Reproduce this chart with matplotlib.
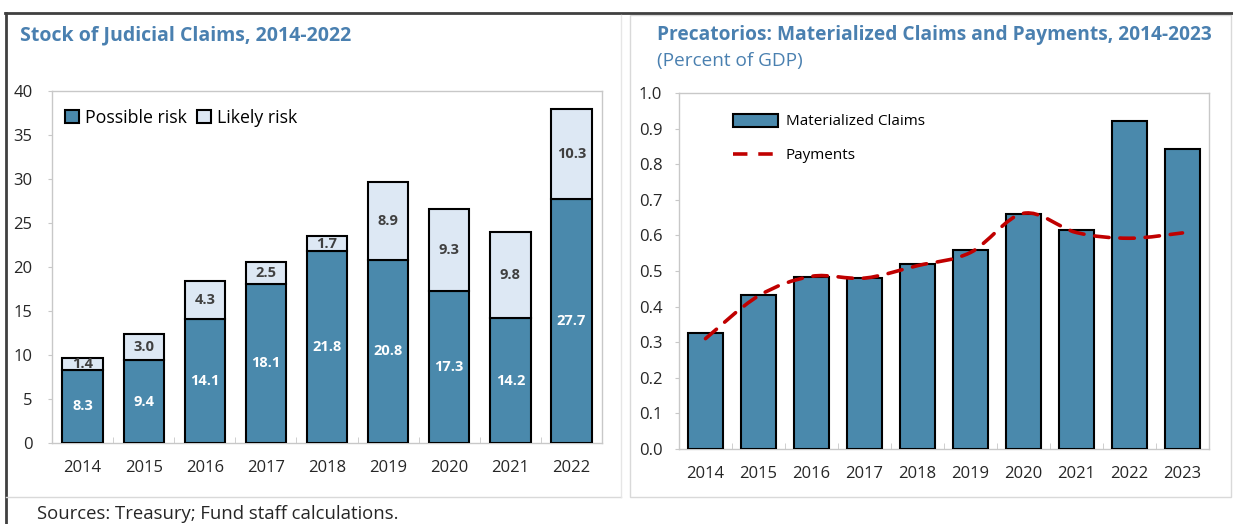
import numpy as np
import matplotlib
matplotlib.use('Agg')
import matplotlib.pyplot as plt
from matplotlib.path import Path
from matplotlib.patches import PathPatch, Rectangle
from matplotlib.lines import Line2D

plt.rcParams['font.family'] = ['Open Sans', 'DejaVu Sans']

# 左图：司法索赔存量
years_left = ['2014', '2015', '2016', '2017', '2018', '2019', '2020', '2021', '2022']
possible_risk = [8.3, 9.4, 14.1, 18.1, 21.8, 20.8, 17.3, 14.2, 27.7]
likely_risk = [1.4, 3.0, 4.3, 2.5, 1.7, 8.9, 9.3, 9.8, 10.3]

# 右图：Precatorios
years_right = ['2014', '2015', '2016', '2017', '2018', '2019', '2020', '2021', '2022', '2023']
materialized = [0.325, 0.433, 0.483, 0.480, 0.519, 0.558, 0.660, 0.615, 0.920, 0.843]
payments = [0.31, 0.43, 0.485, 0.48, 0.515, 0.552, 0.662, 0.608, 0.592, 0.607]

BLUE = '#4a89ac'
LIGHT = '#dde8f4'
TITLE = '#4a80b0'
GRID = '#c8c8c8'
TXT = '#262626'

W, H = 1233, 524
fig = plt.figure(figsize=(W / 100, H / 100), dpi=100)


def px_axes(x0, y0, x1, y1):
    # 像素坐标 -> figure 坐标
    return fig.add_axes([x0 / W, 1 - y1 / H, (x1 - x0) / W, (y1 - y0) / H])


def style_axes(ax, n, labels, ypad):
    for s in ax.spines.values():
        s.set_color(GRID)
        s.set_linewidth(1)
    ax.set_xlim(-0.5, n - 0.5)
    ax.set_xticks(range(n))
    ax.set_xticklabels(labels)
    ax.set_xticks(np.arange(0.5, n - 0.5, 1), minor=True)
    ax.tick_params(axis='x', which='major', length=0, pad=12, labelsize=12, labelcolor=TXT)
    ax.tick_params(axis='x', which='minor', length=4, direction='in', color=GRID)
    ax.tick_params(axis='y', length=3, color=GRID, pad=ypad, labelsize=12, labelcolor=TXT)


# 外框装饰线
fig.add_artist(Line2D([5 / W, 1], [1 - 13 / H, 1 - 13 / H], color='#404040', lw=2))
fig.add_artist(Line2D([6 / W, 6 / W], [0, 1 - 13 / H], color='#404040', lw=2))
fig.add_artist(Line2D([6 / W, 621 / W], [1 - 497 / H, 1 - 497 / H], color='#d9d9d9', lw=1))
fig.add_artist(Line2D([621 / W, 621 / W], [1 - 497 / H, 1 - 15 / H], color='#e6e6e6', lw=1))
fig.add_artist(Rectangle((630 / W, 1 - 497 / H), (1231 - 630) / W, (497 - 15) / H,
                         transform=fig.transFigure, fill=False, ec='#d9d9d9', lw=1))

# ---------------- 左图 ----------------
ax1 = px_axes(52, 91, 602, 443)
x = np.arange(len(years_left))
ax1.bar(x, possible_risk, width=0.66, color=BLUE, edgecolor='black', linewidth=1.5,
        label='Possible risk', zorder=3)
ax1.bar(x, likely_risk, width=0.66, bottom=possible_risk, color=LIGHT, edgecolor='black',
        linewidth=1.5, label='Likely risk', zorder=3)
for i in range(len(x)):
    ax1.text(x[i], possible_risk[i] / 2, f'{possible_risk[i]:.1f}', ha='center', va='center',
             color='white', fontsize=10.5, fontweight='bold', zorder=4)
    ax1.text(x[i], possible_risk[i] + likely_risk[i] / 2, f'{likely_risk[i]:.1f}', ha='center',
             va='center', color='#404040', fontsize=10.5, fontweight='bold', zorder=4)
ax1.set_ylim(0, 40)
ax1.set_yticks(range(0, 41, 5))
style_axes(ax1, len(years_left), years_left, 11)
ax1.legend(loc='upper left', bbox_to_anchor=(-0.005, 0.995), ncol=2, frameon=False, fontsize=12.8,
           handlelength=0.75, handleheight=0.75, handletextpad=0.35, columnspacing=0.6,
           borderaxespad=0.5)
fig.text(20 / W, 1 - 35 / H, 'Stock of Judicial Claims, 2014-2022', color=TITLE, fontsize=14,
         fontweight='bold', va='center', ha='left')

# ---------------- 右图 ----------------
ax2 = px_axes(679, 93, 1209, 449)
x2 = np.arange(len(years_right))
bars = ax2.bar(x2, materialized, width=0.66, color=BLUE, edgecolor='black', linewidth=1.5,
               label='Materialized Claims', zorder=3)

# 平滑折线（Catmull-Rom 转三次贝塞尔）
pts = np.column_stack([x2, payments]).astype(float)
verts = [tuple(pts[0])]
codes = [Path.MOVETO]
for i in range(len(pts) - 1):
    p0 = pts[max(i - 1, 0)]
    p1 = pts[i]
    p2 = pts[i + 1]
    p3 = pts[min(i + 2, len(pts) - 1)]
    c1 = p1 + (p2 - p0) / 6
    c2 = p2 - (p3 - p1) / 6
    verts += [tuple(c1), tuple(c2), tuple(p2)]
    codes += [Path.CURVE4] * 3
ax2.add_patch(PathPatch(Path(verts, codes), fill=False, ec='#c00000', lw=2.6,
                        linestyle=(0, (4, 3)), zorder=5, capstyle='round'))
pay_handle = Line2D([], [], color='#c00000', lw=2.6, linestyle=(0, (4, 3)))

ax2.set_ylim(0, 1.0)
ax2.set_yticks(np.arange(0, 1.01, 0.1))
ax2.set_yticklabels([f'{v:.1f}' for v in np.arange(0, 1.01, 0.1)])
style_axes(ax2, len(years_right), years_right, 9)
ax2.legend([bars, pay_handle], ['Materialized Claims', 'Payments'], loc='upper left',
           bbox_to_anchor=(0.075, 0.98), frameon=False, fontsize=11,
           handlelength=3.0, handleheight=0.9, handletextpad=0.5, labelspacing=1.2)
fig.text(657 / W, 1 - 35 / H, 'Precatorios: Materialized Claims and Payments, 2014-2023',
         color=TITLE, fontsize=13.8, fontweight='bold', va='center', ha='left')
fig.text(657 / W, 1 - 61 / H, '(Percent of GDP)', color=TITLE, fontsize=13.7, va='center', ha='left')

fig.text(37 / W, 1 - 514 / H, 'Sources: Treasury; Fund staff calculations.', color=TXT,
         fontsize=13.3, va='center', ha='left')

fig.savefig('out.png', dpi=100)
